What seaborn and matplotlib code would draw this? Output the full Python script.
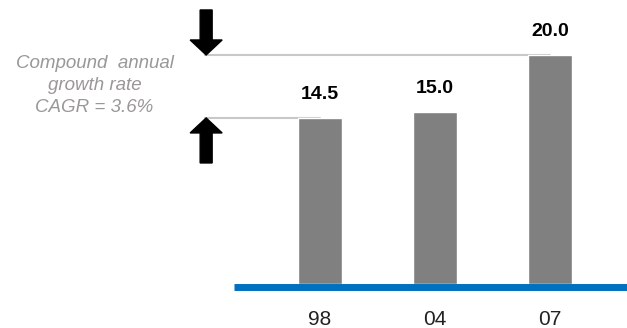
import matplotlib
matplotlib.use("Agg")
import matplotlib.pyplot as plt
from matplotlib.patches import FancyArrow
import seaborn as sns
import pandas as pd

# Data
years = ["98", "04", "07"]
values = [14.5, 15.0, 20.0]
cagr_label = "Compound  annual\ngrowth rate\nCAGR = 3.6%"

df = pd.DataFrame({"year": years, "value": values})

sns.set_theme(style="white")
plt.rcParams["font.family"] = ["Liberation Sans", "DejaVu Sans"]

fig = plt.figure(figsize=(6.27, 3.28), dpi=100)
fig.patch.set_facecolor("white")
ax = fig.add_axes([0, 44 / 328, 1, 284 / 328])
ax.set_facecolor("white")

sns.barplot(data=df, x="year", y="value", order=years, color="#808080",
            saturation=1, width=0.387, ax=ax, zorder=2)

ax.set_xlim(-320 / 115, 307 / 115)
ax.set_ylim(0, 24.80)

# value labels above each bar
ax.bar_label(ax.containers[0], fmt="%.1f", padding=11, fontsize=14,
             fontweight="bold", color="black")

# blue baseline
ax.plot([-0.748, 3.0], [-0.22, -0.22], color="#0070C0", linewidth=5.0,
        solid_capstyle="butt", clip_on=False, zorder=3)

# grey reference lines from the first and last bar tops
first, last = values[0], values[-1]
ax.plot([-1.0, 2.0], [last, last], color="#c8c8c8", linewidth=1.5, zorder=1)
ax.plot([-1.0, 0.0], [first, first], color="#c8c8c8", linewidth=1.5, zorder=1)

# arrows pointing to the two reference lines
arrow_kw = dict(width=12 / 115, head_width=32 / 115, head_length=1.31,
                length_includes_head=True, color="black", zorder=4)
ax.add_patch(FancyArrow(-0.99, last + 3.93, 0, -3.93, **arrow_kw))
ax.add_patch(FancyArrow(-0.99, first - 3.93, 0, 3.93, **arrow_kw))

# CAGR annotation
ax.text(-1.96, 17.3, cagr_label, ha="center", va="center", fontsize=13.5,
        style="italic", color="#9a9896", linespacing=1.38)

ax.set_xlabel("")
ax.set_ylabel("")
ax.set_yticks([])
ax.tick_params(axis="x", length=0, pad=18.5, labelsize=15, labelcolor="#222222")
for s in ax.spines.values():
    s.set_visible(False)

fig.savefig("out.png", dpi=100, facecolor="white")
